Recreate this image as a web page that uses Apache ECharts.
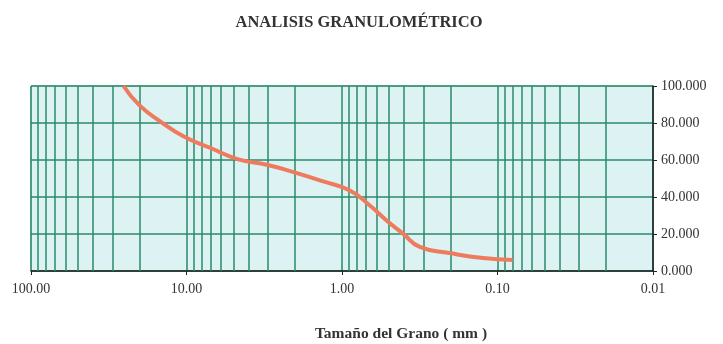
<!DOCTYPE html>
<html>
<head>
<meta charset="utf-8">
<script src="https://cdn.jsdelivr.net/npm/echarts@6/dist/echarts.min.js"></script>
<style>
html,body{margin:0;padding:0;background:#fff;}
#chart{width:723px;height:344px;}
</style>
</head>
<body>
<div id="chart"></div>
<script>
// Grain size (mm) and percent passing
var sizes =   [25.4, 20.2, 14.7, 10.4, 7.0, 4.7, 3.0, 1.95, 1.32, 0.89, 0.662, 0.517, 0.405, 0.316, 0.203, 0.124, 0.080];
var passing = [100.0, 89.8, 80.8, 72.7, 66.5, 60.5, 57.3, 52.9, 48.4, 43.5, 35.4, 27.3, 20.2, 13.0, 9.7, 7.0, 6.0];
// Minor log grid values (2..9 per decade)
var minorGrid = [90, 80, 70, 60, 50, 40, 30, 20,
                 9, 8, 7, 6, 5, 4, 3, 2,
                 0.9, 0.8, 0.7, 0.6, 0.5, 0.4, 0.3, 0.2,
                 0.09, 0.08, 0.07, 0.06, 0.05, 0.04, 0.03, 0.02];
var titleText = 'ANALISIS GRANULOMÉTRICO';
var xName = 'Tamaño del Grano ( mm )';

var gridColor = '#2a8a68';
var serif = '"Liberation Serif", "DejaVu Serif", serif';

var chart = echarts.init(document.getElementById('chart'));
chart.setOption({
  animation: false,
  backgroundColor: '#ffffff',
  title: [
    { text: titleText, left: 354, top: 9, textAlign: 'center',
      textStyle: { fontFamily: serif, fontSize: 16.5, fontWeight: 'bold', color: '#333' } },
    { text: xName, left: 396, top: 321, textAlign: 'center',
      textStyle: { fontFamily: serif, fontSize: 15.5, fontWeight: 'bold', color: '#333' } }
  ],
  grid: {
    left: 31, right: 70, top: 86, bottom: 73,
    show: true, backgroundColor: '#dcf2f3', borderColor: '#8aa8a0', borderWidth: 1
  },
  xAxis: {
    type: 'log', logBase: 10, min: 0.01, max: 100, interval: 1, inverse: true,
    axisLine: { show: true, lineStyle: { color: '#222', width: 1.5 } },
    axisTick: { show: true, length: 4, lineStyle: { color: '#222' } },
    axisLabel: { fontFamily: serif, fontSize: 14, color: '#333', margin: 11,
      formatter: function (v) { return Number(v).toFixed(2); } },
    splitLine: { show: true, lineStyle: { color: gridColor, width: 1.5 } },
    minorTick: { show: false }, minorSplitLine: { show: false }
  },
  yAxis: {
    type: 'value', position: 'right', min: 0, max: 100, interval: 20,
    axisLine: { show: true, lineStyle: { color: '#222', width: 1.5 } },
    axisTick: { show: true, inside: false, length: 4, lineStyle: { color: '#222' } },
    axisLabel: { fontFamily: serif, fontSize: 14, color: '#333', margin: 8,
      formatter: function (v) { return v.toFixed(3); } },
    splitLine: { show: true, lineStyle: { color: gridColor, width: 1.5 } }
  },
  series: [
    {
      type: 'line', data: [], z: 1, silent: true,
      markLine: {
        silent: true, symbol: ['none', 'none'], animation: false,
        label: { show: false },
        lineStyle: { color: gridColor, width: 1.5, type: 'solid' },
        data: minorGrid.map(function (v) { return { xAxis: v }; })
      }
    },
    {
      type: 'line', z: 5,
      data: sizes.map(function (s, i) { return [s, passing[i]]; }),
      smooth: 0.5, showSymbol: false,
      lineStyle: { color: '#ee7b5e', width: 4 }
    }
  ]
});
</script>
</body>
</html>
